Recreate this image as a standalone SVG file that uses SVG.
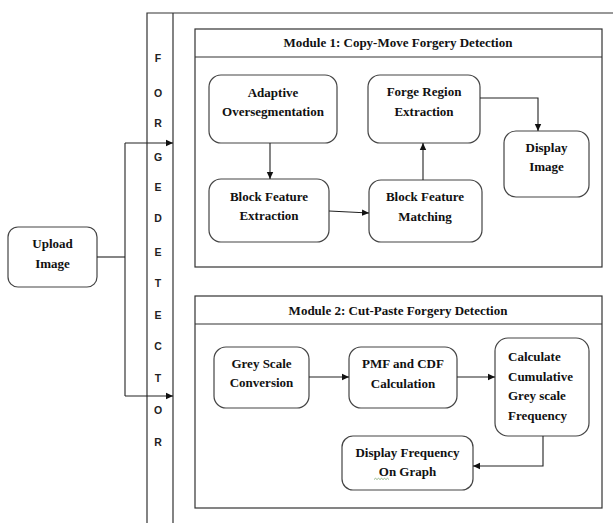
<svg xmlns="http://www.w3.org/2000/svg" width="613" height="523" viewBox="0 0 613 523">
<style>
.bg{fill:#fff}
.frame{fill:none;stroke:#333;stroke-width:1.2}
.node{fill:#fff;stroke:#444;stroke-width:1.2}
.t{font-family:"Liberation Serif","Times New Roman",serif;font-weight:bold;font-size:13px;fill:#111;text-anchor:middle}
.tl{text-anchor:start}
.v{font-family:"Liberation Sans",Arial,sans-serif;font-weight:bold;font-size:10.5px;fill:#222;text-anchor:middle}
.c{fill:none;stroke:#222;stroke-width:1.1}
</style>
<defs>
<marker id="ah" markerUnits="userSpaceOnUse" markerWidth="8" markerHeight="8" refX="7" refY="4" orient="auto">
<path d="M0,0.8 L7,4 L0,7.2 Z" fill="#111"/>
</marker>
</defs>
<rect class="bg" width="613" height="523"/>

<g id="detector-strip">
<path class="frame" d="M147,523 V13 H613 M173,13 V523"/>
<text class="v" x="158" y="62">F</text>
<text class="v" x="158" y="97">O</text>
<text class="v" x="158" y="127">R</text>
<text class="v" x="158" y="161">G</text>
<text class="v" x="158" y="191">E</text>
<text class="v" x="158" y="222">D</text>
<text class="v" x="158" y="256">E</text>
<text class="v" x="158" y="287">T</text>
<text class="v" x="158" y="319">E</text>
<text class="v" x="158" y="350">C</text>
<text class="v" x="158" y="382">T</text>
<text class="v" x="158" y="414">O</text>
<text class="v" x="158" y="446">R</text>
</g>

<g id="module1">
<rect class="frame" x="195" y="29" width="407" height="238"/>
<line class="frame" x1="195" y1="57" x2="602" y2="57"/>
<text class="t" x="398" y="47">Module 1: Copy-Move Forgery Detection</text>
</g>

<g id="module2">
<rect class="frame" x="195" y="296" width="407" height="212"/>
<line class="frame" x1="195" y1="324" x2="602" y2="324"/>
<text class="t" x="398" y="315">Module 2: Cut-Paste Forgery Detection</text>
</g>

<g id="upload-image">
<rect class="node" x="8" y="227" width="89" height="60" rx="10"/>
<text class="t" x="52.5" y="248">Upload</text>
<text class="t" x="52.5" y="268">Image</text>
</g>

<g id="adaptive-oversegmentation">
<rect class="node" x="209" y="75" width="128" height="68" rx="12"/>
<text class="t" x="273" y="97">Adaptive</text>
<text class="t" x="273" y="116">Oversegmentation</text>
</g>

<g id="block-feature-extraction">
<rect class="node" x="209" y="179" width="120" height="63" rx="12"/>
<text class="t" x="269" y="201">Block Feature</text>
<text class="t" x="269" y="220">Extraction</text>
</g>

<g id="forge-region-extraction">
<rect class="node" x="368" y="75" width="112" height="68" rx="12"/>
<text class="t" x="424" y="96">Forge Region</text>
<text class="t" x="424" y="116">Extraction</text>
</g>

<g id="block-feature-matching">
<rect class="node" x="369" y="180" width="113" height="62" rx="12"/>
<text class="t" x="425" y="201">Block Feature</text>
<text class="t" x="425" y="221">Matching</text>
</g>

<g id="display-image">
<rect class="node" x="504" y="131" width="85" height="66" rx="12"/>
<text class="t" x="546.5" y="152">Display</text>
<text class="t" x="546.5" y="171">Image</text>
</g>

<g id="grey-scale-conversion">
<rect class="node" x="214" y="347" width="95" height="61" rx="12"/>
<text class="t" x="261.5" y="368">Grey Scale</text>
<text class="t" x="261.5" y="387">Conversion</text>
</g>

<g id="pmf-cdf-calculation">
<rect class="node" x="349" y="347" width="108" height="61" rx="12"/>
<text class="t" x="403" y="368">PMF and CDF</text>
<text class="t" x="403" y="388">Calculation</text>
</g>

<g id="calculate-cumulative">
<rect class="node" x="495" y="338" width="94" height="98" rx="13"/>
<text class="t tl" x="508" y="361">Calculate</text>
<text class="t tl" x="508" y="381">Cumulative</text>
<text class="t tl" x="508" y="400">Grey scale</text>
<text class="t tl" x="508" y="420">Frequency</text>
</g>

<g id="display-frequency">
<rect class="node" x="342" y="436" width="131" height="54" rx="11"/>
<text class="t" x="407.5" y="457">Display Frequency</text>
<text class="t" x="407.5" y="476">On Graph</text>
<path d="M374,479.5 l1.5,-1.2 l1.5,1.2 l1.5,-1.2 l1.5,1.2 l1.5,-1.2 l1.5,1.2 l1.5,-1.2 l1.5,1.2 l1.5,-1.2 l1.5,1.2" fill="none" stroke="#6a9a5a" stroke-width="0.7"/>
</g>

<g id="connectors">
<path class="c" d="M97,257 H125"/>
<path class="c" d="M125,143 V396"/>
<path class="c" d="M125,143 H173" marker-end="url(#ah)"/>
<path class="c" d="M125,396 H173" marker-end="url(#ah)"/>
<path class="c" d="M270,143 V179" marker-end="url(#ah)"/>
<path class="c" d="M329,211 L369,213" marker-end="url(#ah)"/>
<path class="c" d="M423,180 V143" marker-end="url(#ah)"/>
<path class="c" d="M480,98 H538 V131" marker-end="url(#ah)"/>
<path class="c" d="M309,377 H349" marker-end="url(#ah)"/>
<path class="c" d="M457,377 H495" marker-end="url(#ah)"/>
<path class="c" d="M543,436 V466 H473" marker-end="url(#ah)"/>
</g>
</svg>
